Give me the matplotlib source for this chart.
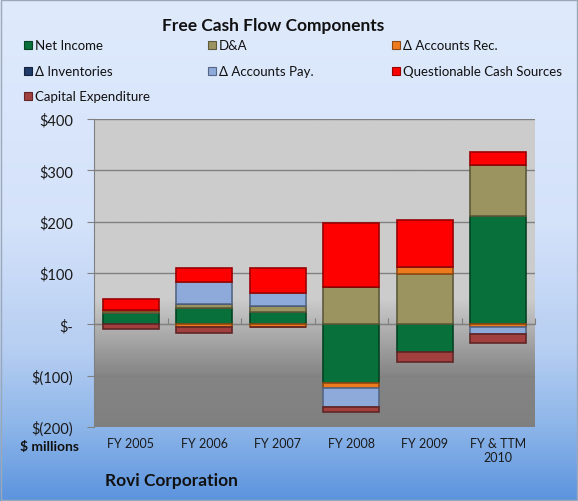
import matplotlib
matplotlib.use('Agg')
import matplotlib.pyplot as plt
import numpy as np
from matplotlib.patches import Rectangle
from matplotlib.colors import to_rgb

### Data ####################################################
years = ['FY 2005', 'FY 2006', 'FY 2007', 'FY 2008', 'FY 2009', 'FY & TTM\n2010']
net_income = [22, 32, 24, -114, -53, 211]
dep_amort = [4, 8, 12, 73, 99, 99]
accounts_rec = [2, -6, -5, -10, 12, -6]
inventories = [0, 0, 0, 0, 0, 0]
accounts_pay = [0, 42, 26, -37, 0, -13]
questionable = [22, 27, 47, 124, 92, 25]
capex = [-9, -10, -1, -10, -21, -17]

series_names = ['Net Income', 'D&A', '\u0394 Accounts Rec.', '\u0394 Inventories',
                '\u0394 Accounts Pay.', 'Questionable Cash Sources', 'Capital Expenditure']
series_colors = ['#08703A', '#9B9461', '#EE7A1E', '#1F3A68', '#8DAADB', '#FF0000', '#A23F3F']
y_ticks = [-200, -100, 0, 100, 200, 300, 400]
y_ticklabels = ['$(200)', '$(100)', '$-', '$100', '$200', '$300', '$400']
#############################################################

plt.rcParams['font.family'] = ['Lato', 'DejaVu Sans']

W, H = 578, 502
fig = plt.figure(figsize=(W / 100, H / 100), dpi=100)

# figure background gradient
bg = fig.add_axes([0, 0, 1, 1], zorder=-10)
stops_y = [0.0, 0.45, 0.70, 0.85, 1.0]
stops_c = np.array([(223, 234, 252), (212, 226, 250), (182, 206, 242),
                    (142, 182, 233), (92, 148, 222)]) / 255.0
yy = np.linspace(0, 1, 300)
grad = np.stack([np.interp(yy, stops_y, stops_c[:, k]) for k in range(3)], axis=-1)
bg.imshow(grad[:, None, :], aspect='auto', extent=[0, 1, 0, 1], origin='upper')
bg.add_patch(Rectangle((0.002, 0.002), 0.996, 0.996, fill=False, edgecolor='#9AA8B8', lw=1))
bg.set_xlim(0, 1)
bg.set_ylim(0, 1)
bg.axis('off')

# plot area
ax = fig.add_axes([94 / W, 1 - 428 / H, (535 - 94) / W, (428 - 120) / H])
x = np.arange(len(years))
ax.set_xlim(-0.5, len(years) - 0.5)
ax.set_ylim(-200, 400)

# plot area gradient
vals = np.linspace(400, -200, 300)
shade = np.interp(vals, [-200, -100, 50, 400], [0.50, 0.52, 0.80, 0.80])
ax.imshow(np.repeat(shade[:, None, None], 3, axis=2), aspect='auto',
          extent=[-0.5, len(years) - 0.5, -200, 400], zorder=0)

ax.yaxis.grid(True, color='#808080', lw=1.0, zorder=1)
ax.set_axisbelow(True)

data = [net_income, dep_amort, accounts_rec, inventories, accounts_pay, questionable, capex]
pos_base = np.zeros(len(years))
neg_base = np.zeros(len(years))
for vals_s, name, col in zip(data, series_names, series_colors):
    v = np.array(vals_s, dtype=float)
    base = np.where(v >= 0, pos_base, neg_base)
    edge = tuple(c * 0.6 for c in to_rgb(col))
    ax.bar(x, v, bottom=base, width=0.76, color=col, edgecolor=edge,
           linewidth=1.2, zorder=3, label=name)
    pos_base = pos_base + np.where(v > 0, v, 0)
    neg_base = neg_base + np.where(v < 0, v, 0)

ax.set_yticks(y_ticks)
ax.set_yticklabels(y_ticklabels, fontsize=10.5, color='#1a1a1a')
ax.tick_params(axis='y', length=5, color='#808080', pad=10)
ax.set_xticks(x)
ax.set_xticklabels(years, fontsize=9, color='#1a1a1a')
ax.tick_params(axis='x', length=0, pad=7)
for s in ['top', 'right', 'bottom']:
    ax.spines[s].set_visible(False)
ax.spines['left'].set_color('#808080')

# category axis at zero with ticks between categories
sec = ax.secondary_xaxis(1 / 3)
sec.set_xticks(np.arange(len(years) + 1) - 0.5)
sec.set_xticklabels([])
sec.tick_params(length=4, direction='in', color='#808080')
sec.spines['bottom'].set_color('#808080')
sec.spines['top'].set_color('#808080')

# titles and notes
fig.text(273 / W, 1 - 26 / H, 'Free Cash Flow Components', ha='center', va='center',
         fontsize=12.5, fontweight='bold', color='#111111')
fig.text(20 / W, 1 - 447 / H, '$ millions', ha='left', va='center',
         fontsize=10, fontweight='bold', color='#111111')
fig.text(105 / W, 1 - 481 / H, 'Rovi Corporation', ha='left', va='center',
         fontsize=12.5, fontweight='bold', color='#111111')

# legend (row-major like the original)
leg_cols = [24, 208, 392]
leg_rows = [46, 72, 97]
for i, (name, col) in enumerate(zip(series_names, series_colors)):
    cx = leg_cols[i % 3]
    cy = leg_rows[i // 3]
    edge = tuple(c * 0.6 for c in to_rgb(col))
    fig.add_artist(Rectangle((cx / W, 1 - (cy + 4) / H), 8 / W, 8 / H,
                             facecolor=col, edgecolor=edge, lw=0.8,
                             transform=fig.transFigure))
    fig.text((cx + 11) / W, 1 - cy / H, name, ha='left', va='center',
             fontsize=9.5, color='#111111')

fig.savefig('out.png', dpi=100)
plt.close(fig)
